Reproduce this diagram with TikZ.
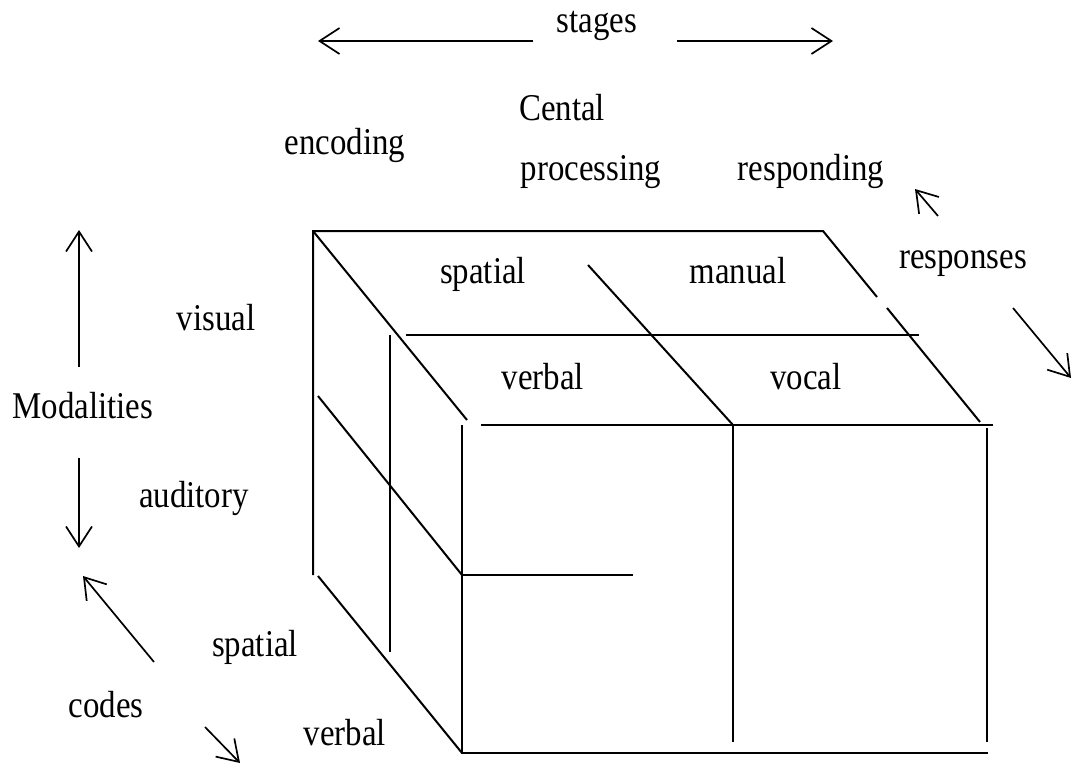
\documentclass[tikz,border=0pt]{standalone}
\usepackage{fontspec}
\setmainfont{Liberation Serif}
\usetikzlibrary{arrows.meta, positioning}
\tikzstyle{word} = [inner sep=0pt, anchor=base, xscale=0.87, font=\fontsize{37.8}{40}\selectfont]
\tikzstyle{edge} = [line width=2pt]
\tikzstyle{pointer} = [line width=1.7pt, -{Straight Barb[length=20pt, width=26pt, line width=1.7pt]}]

\begin{document}
\begin{tikzpicture}[x=1pt, y=-1pt]
    \useasboundingbox (0,0) rectangle (1073,765);

    % Nodes
    \node (stages) [word] at (597,33) {stages};
    \node (cental) [word] at (562,121) {Cental};
    \node (processing) [word] at (591,180) {processing};
    \node (encoding) [word] at (345,154) {encoding};
    \node (responding) [word] at (811,180) {responding};
    \node (responses) [word] at (963,268) {responses};
    \node (visual) [word] at (216,330) {visual};
    \node (modalities) [word] at (83,418) {Modalities};
    \node (auditory) [word] at (194,507) {auditory};
    \node (spatialcode) [word] at (255,656) {spatial};
    \node (codes) [word] at (106,717) {codes};
    \node (verbalcode) [word] at (345,745) {verbal};
    \node (spatialtop) [word] at (483,283) {spatial};
    \node (manual) [word] at (738,283) {manual};
    \node (verbaltop) [word] at (543,389) {verbal};
    \node (vocal) [word] at (806,389) {vocal};

    % Arrow ends
    \coordinate (stagesL) at (533,41);
    \coordinate (stagesLtip) at (318,41);
    \coordinate (stagesR) at (677,41);
    \coordinate (stagesRtip) at (833,41);
    \coordinate (respUp) at (938,216);
    \coordinate (respUptip) at (915,189);
    \coordinate (respDown) at (1013,308);
    \coordinate (respDowntip) at (1071,378);
    \coordinate (modUp) at (79,367);
    \coordinate (modUptip) at (79,230);
    \coordinate (modDown) at (79,458);
    \coordinate (modDowntip) at (79,548);
    \coordinate (codesUp) at (154,662);
    \coordinate (codesUptip) at (83,576);
    \coordinate (codesDown) at (205,727);
    \coordinate (codesDowntip) at (240,763);

    % Arrows
    \draw [pointer] (stagesL) -- (stagesLtip);
    \draw [pointer] (stagesR) -- (stagesRtip);
    \draw [pointer] (respUp) -- (respUptip);
    \draw [pointer] (respDown) -- (respDowntip);
    \draw [pointer] (modUp) -- (modUptip);
    \draw [pointer] (modDown) -- (modDowntip);
    \draw [pointer] (codesUp) -- (codesUptip);
    \draw [pointer] (codesDown) -- (codesDowntip);

    % Cube
    \draw [edge] (313,575) -- (313,231) -- (823,231) -- (877,297);
    \draw [edge] (887,308) -- (980,422);
    \draw [edge] (313,231) -- (467,420);
    \draw [edge] (588,265) -- (733,425);
    \draw [edge] (406,335) -- (919,335);
    \draw [edge] (481,425) -- (993,425);
    \draw [edge] (462,425) -- (462,753) -- (988,753);
    \draw [edge] (733,425) -- (733,742);
    \draw [edge] (987,428) -- (987,742);
    \draw [edge] (462,575) -- (633,575);
    \draw [edge] (318,396) -- (462,575);
    \draw [edge] (318,576) -- (462,753);
    \draw [edge] (390,335) -- (390,652);
\end{tikzpicture}
\end{document}
